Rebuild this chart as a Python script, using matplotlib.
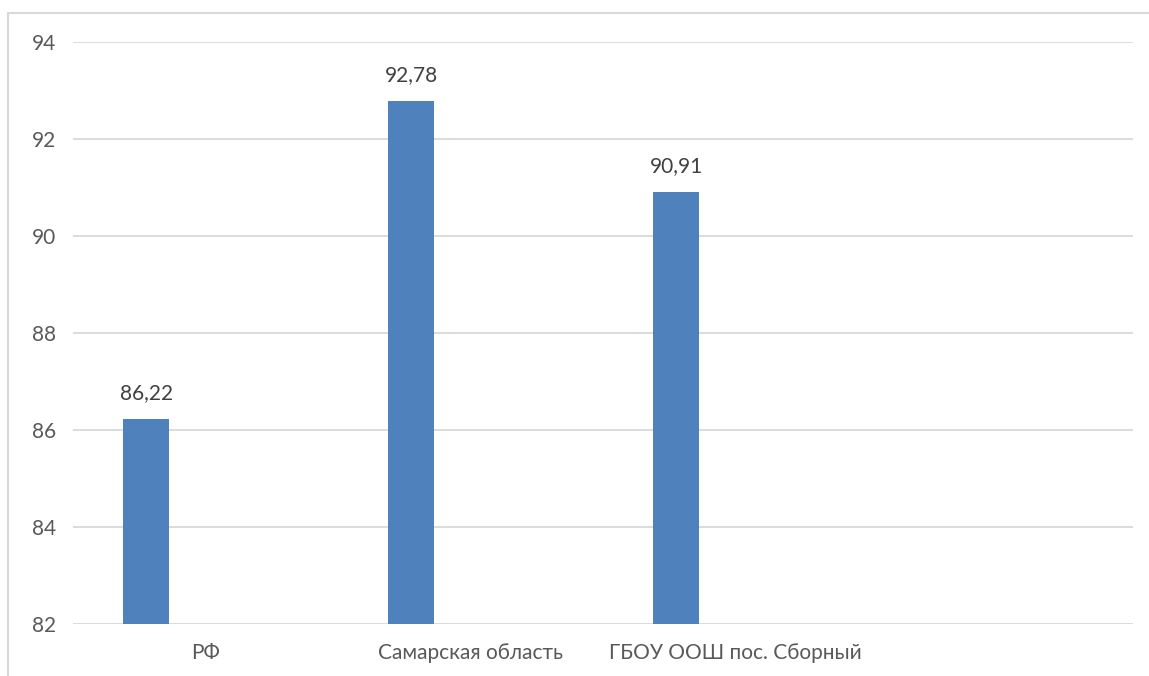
import matplotlib.pyplot as plt
import matplotlib.patches as mpatches

categories = ["РФ", "Самарская область", "ГБОУ ООШ пос. Сборный", ""]
values = [86.22, 92.78, 90.91]
labels = ["86,22", "92,78", "90,91"]
yticks = [82, 84, 86, 88, 90, 92, 94]

plt.rcParams['font.family'] = ['Lato', 'DejaVu Sans']

fig = plt.figure(figsize=(11.49, 6.76), dpi=100)
ax = fig.add_axes([73/1149, 1 - 624/676, (1133 - 73)/1149, (624 - 42)/676])

# chart frame (only top-left visible in the crop)
fig.add_artist(mpatches.Rectangle((8/1149, -0.1), 1.2, 1 - 13/676 + 0.1,
                                  transform=fig.transFigure, fill=False,
                                  edgecolor="#d9d9d9", linewidth=1.5))

pos = [i - 0.223 for i in range(len(values))]
ax.bar(pos, values, width=0.174, color="#4f81bd", zorder=3)
for x, v, t in zip(pos, values, labels):
    ax.text(x, v + 0.33, t, ha="center", va="bottom", fontsize=15, color="#404040")

ax.set_xlim(-0.5, 3.5)
ax.set_ylim(82, 94)
ax.set_yticks(yticks)
ax.set_xticks(range(len(categories)))
ax.set_xticklabels(categories)
ax.tick_params(axis="both", length=0, labelsize=15, colors="#595959")
ax.tick_params(axis="y", pad=12)
ax.tick_params(axis="x", pad=14)
ax.grid(axis="y", color="#d9d9d9", linewidth=1.3, zorder=0)
for s in ax.spines.values():
    s.set_visible(False)

fig.savefig("out.png", dpi=100)
